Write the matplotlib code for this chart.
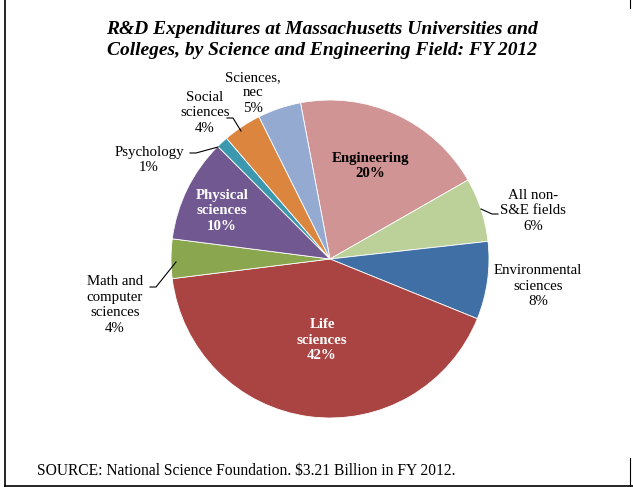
import matplotlib
matplotlib.use('Agg')
import matplotlib.pyplot as plt
from matplotlib.lines import Line2D

plt.rcParams['font.family'] = ['Liberation Serif', 'DejaVu Serif']

# field shares (%) clockwise from Engineering
fields = ['Engineering', 'All non-\nS&E fields', 'Environmental\nsciences', 'Life\nsciences',
          'Math and\ncomputer\nsciences', 'Physical\nsciences', 'Psychology', 'Social\nsciences',
          'Sciences,\nnec']
shares = [19.7, 6.5, 7.9, 41.9, 4.0, 10.5, 1.2, 3.9, 4.4]
pct_labels = ['20%', '6%', '8%', '42%', '4%', '10%', '1%', '4%', '5%']
colors = ['#CF9493', '#BCD09A', '#3F6FA4', '#A94442', '#8AA64E',
          '#715891', '#3C98AF', '#DC853E', '#94AAD1']

W, H = 633, 487
CX, CY, R = 330, 259, 159

fig = plt.figure(figsize=(W / 100, H / 100), dpi=100)
ax = fig.add_axes([0, 0, 1, 1])


def px(x, y):
    # pixel position -> pie data coords (radius 1)
    return (x - CX) / R, (CY - y) / R


ax.pie(shares, colors=colors, startangle=100.7, counterclock=False,
       wedgeprops=dict(edgecolor='white', linewidth=0.6))
ax.set_xlim((0 - CX) / R, (W - CX) / R)
ax.set_ylim((CY - H) / R, CY / R)
ax.set_aspect('equal')
ax.axis('off')

# label placement (pixel centres), colour, weight
label_pos = {
    0: ((370, 166), 'black', 'bold'),
    1: ((533, 211), 'black', 'normal'),
    2: ((538, 286), 'black', 'normal'),
    3: ((322, 340), 'white', 'bold'),
    4: ((115, 305), 'black', 'normal'),
    5: ((222, 211), 'white', 'bold'),
    6: ((149, 160), 'black', 'normal'),
    7: ((205, 113), 'black', 'normal'),
    8: ((253, 93), 'black', 'normal'),
}
for i, (pos, col, wt) in label_pos.items():
    txt = fields[i] + '\n' + pct_labels[i]
    x, y = px(*pos)
    ax.text(x, y, txt, ha='center', va='center', fontsize=10.7, color=col,
            fontweight=wt, linespacing=1.25)

# leader lines
leaders = [
    [(227, 118), (233, 118), (241, 131)],
    [(190, 153), (196, 153), (218, 147)],
    [(150, 287), (156, 287), (176, 262)],
    [(498, 214), (492, 214), (481, 209)],
]
for pts in leaders:
    xs, ys = zip(*[px(*p) for p in pts])
    ax.plot(xs, ys, color='black', linewidth=0.8)

fig.text(322 / W, 1 - 40 / H,
         'R&D Expenditures at Massachusetts Universities and\nColleges, by Science and Engineering Field: FY 2012',
         ha='center', va='center', fontsize=14, fontweight='bold', fontstyle='italic',
         linespacing=1.25)

fig.text(37 / W, 1 - 471 / H, 'SOURCE: National Science Foundation. $3.21 Billion in FY 2012.',
         ha='left', va='center', fontsize=11.2)

# page frame
fig.add_artist(Line2D([5 / W, 5 / W], [0, 1], color='black', linewidth=1.2))
fig.add_artist(Line2D([5 / W, 1], [1.5 / H, 1.5 / H], color='black', linewidth=1.2))
fig.add_artist(Line2D([630 / W, 630 / W], [0, 1 - 458 / H], color='black', linewidth=0.8))
fig.add_artist(Line2D([630 / W, 630 / W], [1 - 8 / H, 1], color='black', linewidth=0.8))

fig.savefig('out.png', dpi=100)
